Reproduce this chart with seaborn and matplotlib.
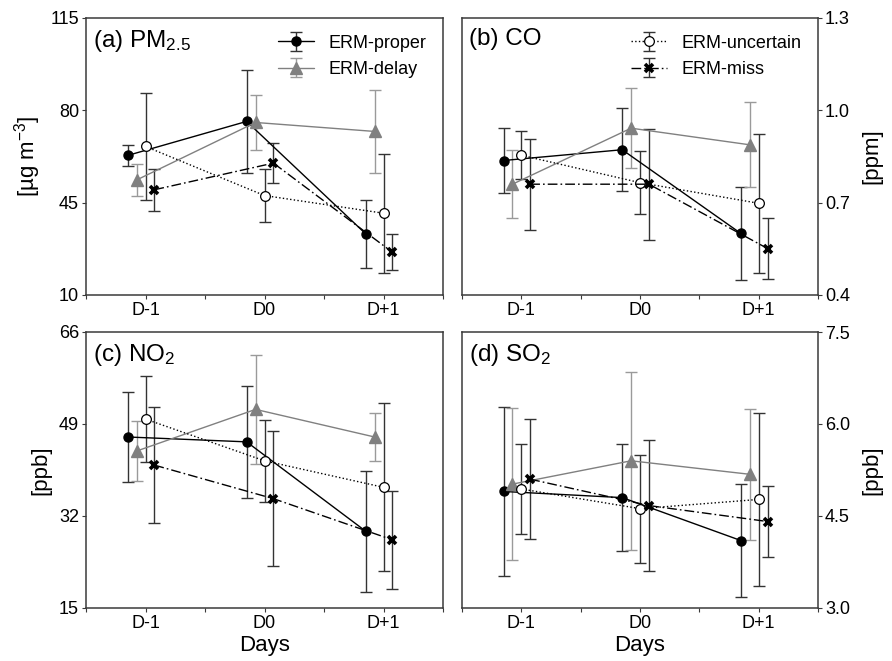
import numpy as np
import pandas as pd
import matplotlib
matplotlib.use("Agg")
import matplotlib.pyplot as plt
import seaborn as sns
from matplotlib.legend_handler import HandlerTuple

# ---------------- data ----------------
days = ["D-1", "D0", "D+1"]
series = ["ERM-proper", "ERM-delay", "ERM-uncertain", "ERM-miss"]

# means per series (rows follow `series`), columns follow `days`
pm25_mean = [[62.9, 75.8, 33.2], [53.6, 75.4, 72.0], [66.3, 47.7, 41.0], [49.9, 60.0, 26.2]]
pm25_err = [[4.0, 19.5, 13.0], [6.2, 10.6, 15.7], [20.3, 10.0, 22.6], [8.0, 7.6, 6.9]]

co_mean = [[0.837, 0.872, 0.600], [0.760, 0.942, 0.888], [0.854, 0.765, 0.698], [0.760, 0.760, 0.551]]
co_err = [[0.106, 0.134, 0.151], [0.111, 0.130, 0.138], [0.078, 0.103, 0.225], [0.148, 0.180, 0.100]]

no2_mean = [[46.6, 45.7, 29.2], [44.0, 51.7, 46.6], [49.9, 42.2, 37.3], [41.4, 35.2, 27.6]]
no2_err = [[8.4, 10.4, 11.2], [5.5, 10.0, 4.4], [8.0, 7.6, 15.5], [10.7, 12.5, 9.0]]

so2_mean = [[4.90, 4.80, 4.10], [5.02, 5.40, 5.18], [4.94, 4.62, 4.77], [5.10, 4.67, 4.41]]
so2_err = [[1.38, 0.87, 0.92], [1.24, 1.45, 1.07], [0.73, 0.88, 1.41], [0.98, 1.07, 0.58]]

panel_titles = ["(a) PM$_{2.5}$", "(b) CO", "(c) NO$_2$", "(d) SO$_2$"]
y_labels = ["[µg m$^{-3}$]", "[ppm]", "[ppb]", "[ppb]"]
y_ticks = [[10, 45, 80, 115], [0.4, 0.7, 1.0, 1.3], [15, 32, 49, 66], [3.0, 4.5, 6.0, 7.5]]
y_ticklabels = [["10", "45", "80", "115"], ["0.4", "0.7", "1.0", "1.3"],
                ["15", "32", "49", "66"], ["3.0", "4.5", "6.0", "7.5"]]
x_label = "Days"

# ---------------- style ----------------
sns.set_theme(style="ticks")
plt.rcParams["font.family"] = ["Liberation Sans", "DejaVu Sans"]
plt.rcParams["mathtext.fontset"] = "custom"
plt.rcParams["mathtext.rm"] = "Liberation Sans"
plt.rcParams["mathtext.it"] = "Liberation Sans:italic"
plt.rcParams["mathtext.bf"] = "Liberation Sans:bold"
plt.rcParams["axes.unicode_minus"] = True
plt.rcParams["text.color"] = "black"
plt.rcParams["axes.labelcolor"] = "black"

dodge = [-0.15, -0.075, 0.0, 0.075]
styles = [
    dict(color="black", marker="o", ms=6.5, mfc="black", mec="black", mew=1.0, ls="-", ecolor="#333333"),
    dict(color="#808080", marker="^", ms=8.5, mfc="#808080", mec="#808080", mew=1.0, ls="-", ecolor="#9a9a9a"),
    dict(color="black", marker="o", ms=7, mfc="white", mec="black", mew=0.9, ls=":", ecolor="#333333"),
    dict(color="black", marker="x", ms=6, mfc="black", mec="black", mew=2.6, ls=(0, (7, 2.2, 1.2, 2.2)),
         ecolor="#333333"),
]

means = [pm25_mean, co_mean, no2_mean, so2_mean]
errs = [pm25_err, co_err, no2_err, so2_err]

fig = plt.figure(figsize=(8.92, 6.61), dpi=100)
W, H = 892.0, 661.0
boxes = [(86, 18, 443, 295), (462, 18, 818, 295), (86, 332, 443, 608), (462, 332, 818, 608)]

spine_col = "#3a3a3a"
for p in range(4):
    l, t, r, b = boxes[p]
    ax = fig.add_axes([l / W, 1 - b / H, (r - l) / W, (b - t) / H])
    handles = []
    for s in range(4):
        st = styles[s]
        xpos = np.arange(len(days)) + dodge[s]
        df = pd.DataFrame({"x": xpos, "value": means[p][s], "err": errs[p][s]})
        eb = ax.errorbar(df["x"], df["value"], yerr=df["err"], fmt="none",
                         ecolor=st["ecolor"], elinewidth=1.0, capsize=4.5, capthick=1.0, zorder=2)
        sns.lineplot(data=df, x="x", y="value", ax=ax, color=st["color"], linestyle=st["ls"],
                     linewidth=1.0, marker=st["marker"], markersize=st["ms"],
                     markerfacecolor=st["mfc"], markeredgecolor=st["mec"], markeredgewidth=st["mew"],
                     errorbar=None, zorder=3 + s, legend=False)
        line = ax.lines[-1]
        handles.append((eb, line))

    ax.set_xlim(-0.5, 2.5)
    ax.set_ylim(y_ticks[p][0], y_ticks[p][-1])
    ax.set_xticks(range(len(days)))
    ax.set_xticklabels(days)
    ax.set_xticks([-0.5, 0.5, 1.5, 2.5], minor=True)
    ax.set_yticks(y_ticks[p])
    ax.set_yticklabels(y_ticklabels[p])
    ax.tick_params(axis="both", which="both", direction="out", length=3, width=0.8,
                   color=spine_col, labelsize=13, pad=2, labelcolor="black")
    for sp in ax.spines.values():
        sp.set_visible(True)
        sp.set_color(spine_col)
        sp.set_linewidth(1.1)
    ax.set_xlabel(x_label if p >= 2 else "", fontsize=16, labelpad=2)
    if p in (1, 3):
        ax.yaxis.tick_right()
        ax.yaxis.set_label_position("right")
        ax.set_ylabel(y_labels[p], fontsize=16, labelpad=8)
    else:
        ax.set_ylabel(y_labels[p], fontsize=16, labelpad=5)
    ax.text(0.02, 0.965, panel_titles[p], transform=ax.transAxes, ha="left", va="top", fontsize=17.5)

    if p in (0, 1):
        idx = [0, 1] if p == 0 else [2, 3]
        ax.legend([handles[i] for i in idx], [series[i] for i in idx], loc="upper right",
                  frameon=False, fontsize=13, handler_map={tuple: HandlerTuple(ndivide=1)},
                  labelspacing=0.5, borderaxespad=0.3, handletextpad=0.8,
                  bbox_to_anchor=(0.99, 0.985))

fig.savefig("out.png", dpi=100)
